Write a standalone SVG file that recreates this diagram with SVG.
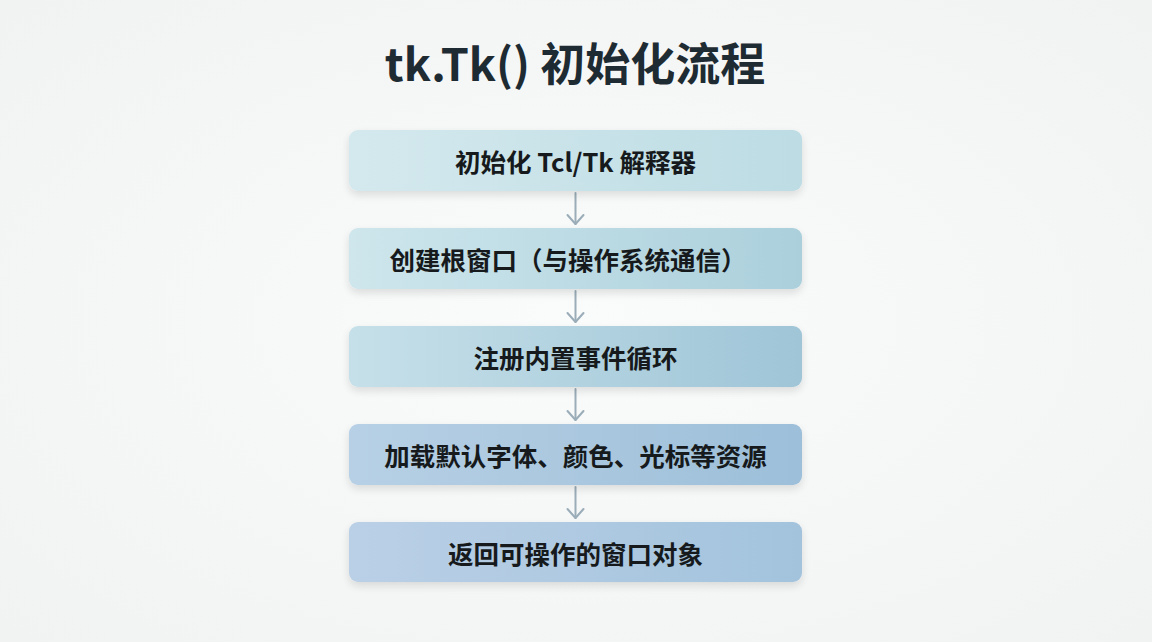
<svg xmlns="http://www.w3.org/2000/svg" width="1152" height="642" viewBox="0 0 1152 642">
<defs>
<style>
.title{font-family:"Noto Sans CJK SC","Noto Sans",sans-serif;font-weight:700;font-size:45px;fill:#1e2b32;text-anchor:middle}
.lbl{font-family:"Noto Sans CJK SC","Noto Sans",sans-serif;font-weight:700;font-size:25.5px;fill:#161a1c;text-anchor:middle;dominant-baseline:central}
.box{filter:url(#sh)}
.conn line,.conn polyline{stroke:#9aadb8;stroke-width:2;fill:none;stroke-linecap:round;stroke-linejoin:round}
</style>
<filter id="sh" x="-10%" y="-30%" width="120%" height="170%">
<feGaussianBlur in="SourceAlpha" stdDeviation="4"/>
<feOffset dy="4" result="b"/>
<feComponentTransfer in="b" result="c"><feFuncA type="linear" slope="0.12"/></feComponentTransfer>
<feMerge><feMergeNode in="c"/><feMergeNode in="SourceGraphic"/></feMerge>
</filter>
<linearGradient id="g1" x1="0" y1="0" x2="1" y2="0"><stop offset="0" stop-color="#d4e9ee"/><stop offset="1" stop-color="#bddce4"/></linearGradient>
<linearGradient id="g2" x1="0" y1="0" x2="1" y2="0"><stop offset="0" stop-color="#cee6ec"/><stop offset="1" stop-color="#abd0dc"/></linearGradient>
<linearGradient id="g3" x1="0" y1="0" x2="1" y2="0"><stop offset="0" stop-color="#c6e0e9"/><stop offset="1" stop-color="#9fc5d7"/></linearGradient>
<linearGradient id="g4" x1="0" y1="0" x2="1" y2="0"><stop offset="0" stop-color="#b7d0e5"/><stop offset="1" stop-color="#9dbfd9"/></linearGradient>
<linearGradient id="g5" x1="0" y1="0" x2="1" y2="0"><stop offset="0" stop-color="#bad0e6"/><stop offset="1" stop-color="#a3c3dd"/></linearGradient>
<radialGradient id="bg" cx="0.5" cy="0.5" r="0.7"><stop offset="0" stop-color="#fafbfb"/><stop offset="1" stop-color="#f1f3f3"/></radialGradient>
</defs>
<rect width="1152" height="642" fill="url(#bg)"/>
<text class="title" x="575" y="81">tk.Tk() 初始化流程</text>
<g class="conn" id="connectors">
<line x1="575.5" y1="193" x2="575.5" y2="224"/><polyline points="567.5,215 575.5,224 583.5,215"/>
<line x1="575.5" y1="291" x2="575.5" y2="322"/><polyline points="567.5,313 575.5,322 583.5,313"/>
<line x1="575.5" y1="389" x2="575.5" y2="420"/><polyline points="567.5,411 575.5,420 583.5,411"/>
<line x1="575.5" y1="487" x2="575.5" y2="518"/><polyline points="567.5,509 575.5,518 583.5,509"/>
</g>
<g id="n1"><rect class="box" x="349" y="130" width="453" height="61" rx="9" fill="url(#g1)"/><text class="lbl" x="575.5" y="160.5">初始化 Tcl/Tk 解释器</text></g>
<g id="n2"><rect class="box" x="349" y="228" width="453" height="61" rx="9" fill="url(#g2)"/><text class="lbl" x="568" y="258.5">创建根窗口（与操作系统通信）</text></g>
<g id="n3"><rect class="box" x="349" y="326" width="453" height="61" rx="9" fill="url(#g3)"/><text class="lbl" x="575.5" y="356.5">注册内置事件循环</text></g>
<g id="n4"><rect class="box" x="349" y="424" width="453" height="61" rx="9" fill="url(#g4)"/><text class="lbl" x="575.5" y="454.5">加载默认字体、颜色、光标等资源</text></g>
<g id="n5"><rect class="box" x="349" y="522" width="453" height="60" rx="9" fill="url(#g5)"/><text class="lbl" x="575.5" y="552">返回可操作的窗口对象</text></g>
</svg>
